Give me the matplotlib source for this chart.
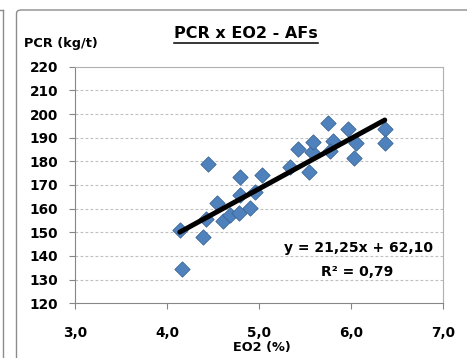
import matplotlib
matplotlib.use("Agg")
import matplotlib.pyplot as plt
from matplotlib.lines import Line2D
from matplotlib.patches import FancyBboxPatch
import numpy as np

# ---- data ----
eo2 = [4.14, 4.16, 4.39, 4.45, 4.55, 4.43, 4.61, 4.69, 4.78, 4.80, 4.80, 4.90, 4.96, 5.03,
       5.34, 5.43, 5.55, 5.58, 5.59, 5.75, 5.81, 5.77, 5.97, 6.06, 6.04, 6.37, 6.37]
pcr = [151.0, 134.3, 147.9, 178.8, 162.5, 155.6, 154.9, 157.2, 158.0, 173.5, 165.8, 160.4, 167.0, 174.2,
       177.4, 185.1, 175.4, 184.1, 188.3, 196.1, 188.5, 184.5, 193.5, 187.6, 181.3, 193.6, 187.8]
slope = 21.25
intercept = 62.10
r2 = 0.79
x_ticks = [3.0, 4.0, 5.0, 6.0, 7.0]
y_ticks = [120, 130, 140, 150, 160, 170, 180, 190, 200, 210, 220]
title = "PCR x EO2 - AFs"
xlabel = "EO2 (%)"
ylabel = "PCR (kg/t)"

W, H = 467, 358
plt.rcParams['font.family'] = ['DejaVu Sans']
fig = plt.figure(figsize=(W / 100, H / 100), dpi=100)

# chart frames
fig.add_artist(FancyBboxPatch((16.5 / W, -0.2), 1.2, (H - 10) / H + 0.2,
                              boxstyle="round,pad=0,rounding_size=0.01",
                              transform=fig.transFigure, facecolor='none',
                              edgecolor='#8C8C8C', linewidth=1.0))
fig.add_artist(Line2D([2.5 / W, 2.5 / W], [0, (H - 10) / H], transform=fig.transFigure,
                      color='#8C8C8C', linewidth=1.0))
fig.add_artist(Line2D([0, 2.5 / W], [(H - 10) / H, (H - 10) / H], transform=fig.transFigure,
                      color='#8C8C8C', linewidth=1.0))

left, right, top, bottom = 75, 442.7, 66.7, 303.3
ax = fig.add_axes([left / W, 1 - bottom / H, (right - left) / W, (bottom - top) / H])

ax.scatter(eo2, pcr, marker='D', s=7.8 ** 2, facecolor='#4F81BD', edgecolor='#3A6596',
           linewidth=0.6, zorder=3)
xs = np.array([min(eo2), max(eo2)])
ax.plot(xs, slope * xs + intercept, color='black', linewidth=3.6, solid_capstyle='round', zorder=4)

ax.set_xlim(x_ticks[0], x_ticks[-1])
ax.set_ylim(y_ticks[0], y_ticks[-1])
ax.set_xticks(x_ticks)
ax.set_xticklabels([f"{v:.1f}".replace('.', ',') for v in x_ticks])
ax.set_yticks(y_ticks)
ax.set_yticklabels([str(v) for v in y_ticks])
ax.tick_params(axis='both', labelsize=9.8, colors='#868686', labelcolor='black', length=4, width=0.8)
ax.tick_params(axis='x', pad=12)
ax.tick_params(axis='y', pad=8)
for lab in ax.get_xticklabels() + ax.get_yticklabels():
    lab.set_fontweight('bold')

for yv in y_ticks[1:-1]:
    ax.axhline(yv, color='#BFBFBF', linewidth=0.8, linestyle=(0, (2.5, 2)), zorder=1)

ax.spines['left'].set_color('#868686')
ax.spines['bottom'].set_color('#868686')
ax.spines['top'].set_color('#B0B0B0')
ax.spines['right'].set_color('#B0B0B0')

ax.text(0.770, 0.234, f"y = {slope:.2f}x + {intercept:.2f}".replace('.', ','), transform=ax.transAxes,
        ha='center', va='center', fontsize=10, fontweight='bold')
ax.text(0.767, 0.132, f"R² = {r2:.2f}".replace('.', ','), transform=ax.transAxes,
        ha='center', va='center', fontsize=10, fontweight='bold')

fig.text(262 / W, 1 - 348 / H, xlabel, ha='center', va='center', fontsize=9.3, fontweight='bold')
fig.text(24 / W, 1 - 44 / H, ylabel, ha='left', va='center', fontsize=9.3, fontweight='bold')
t = fig.text(246 / W, 1 - 33.5 / H, title, ha='center', va='center', fontsize=11.5, fontweight='bold')

fig.canvas.draw()
bb = t.get_window_extent()
uy = (bb.y0 - 1.5) / H
fig.add_artist(Line2D([bb.x0 / W, bb.x1 / W], [uy, uy], transform=fig.transFigure,
                      color='black', linewidth=1.1))

fig.savefig("out.png", dpi=100)
